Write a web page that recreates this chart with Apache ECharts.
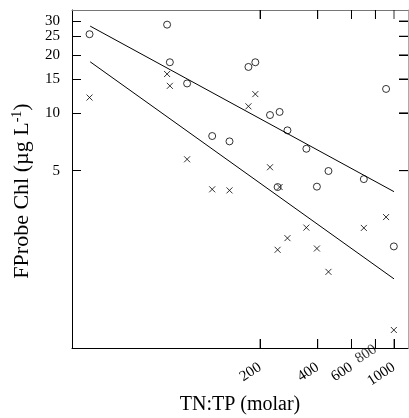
<!DOCTYPE html>
<html>
<head>
<meta charset="utf-8">
<script src="https://cdn.jsdelivr.net/npm/echarts@6/dist/echarts.min.js"></script>
<style>
html,body{margin:0;padding:0;background:#fff;}
#chart{width:409px;height:418px;}
</style>
</head>
<body>
<div id="chart"></div>
<script>
// TN:TP (molar) for each sample
var tnTp = [25.8, 65.5, 67.7, 83.3, 112.6, 138.6, 174, 189, 225.5, 253, 247, 278, 349, 396, 455, 696, 909, 998];
// circles series (upper group)
var chlCircles = [25.6, 28.7, 18.3, 14.2, 7.57, 7.10, 17.3, 18.3, 9.73, 10.1, 4.11, 8.10, 6.50, 4.13, 4.98, 4.52, 13.3, 2.02];
// crosses series (lower group)
var chlCrosses = [12.0, 15.9, 13.8, 5.73, 4.00, 3.95, 10.8, 12.5, 5.21, 4.11, 1.94, 2.23, 2.53, 1.97, 1.49, 2.52, 2.87, 0.743];
// fitted lines
var fitX = [26, 1000];
var fitCircles = [28.2, 3.89];
var fitCrosses = [18.4, 1.37];
// tick values
var xTicks = [200, 400, 600, 800, 1000];
var yTicks = [5, 10, 15, 20, 25, 30];
// x tick labels: the 800 label overlaps 1000, so it is drawn as a separate label
var xLabelsAxis = [200, 400, 600, 1000];
var xLabelsExtra = [800];

function pairs(xs, ys) { return xs.map(function (x, i) { return [x, ys[i]]; }); }

var FONT = '"Liberation Serif", "DejaVu Serif", serif';
var X_MIN = 20.9, X_MAX = 1183, Y_MIN = 0.599, Y_MAX = 34.2;
var chart = echarts.init(document.getElementById('chart'), null, {renderer: 'canvas'});

function xAxisDef(pos, main, lineColor) {
  return {
    type: 'log', position: pos, min: X_MIN, max: X_MAX,
    name: main ? 'TN:TP (molar)' : '', nameLocation: 'middle', nameGap: 47,
    nameTextStyle: {fontFamily: FONT, fontSize: 20, color: '#000'},
    axisLine: {show: true, onZero: false, lineStyle: {color: lineColor, width: 1}},
    axisTick: {show: true, inside: true, length: 9, customValues: xTicks, lineStyle: {color: '#000', width: 1}},
    axisLabel: {show: true, customValues: main ? xLabelsAxis : xTicks, inside: !main,
      rotate: 33, margin: 18, fontFamily: FONT, fontSize: 15,
      color: main ? '#000' : 'rgba(0,0,0,0)', hideOverlap: false,
      formatter: function (v) { return String(Math.round(v)); }},
    splitLine: {show: false}, minorTick: {show: false}
  };
}
function yAxisDef(pos, main, lineColor) {
  return {
    type: 'log', position: pos, min: Y_MIN, max: Y_MAX,
    name: main ? '{a|FProbe Chl (µg L}{s|-1}{a|)}' : '', nameLocation: 'middle', nameGap: 37,
    nameTextStyle: {fontFamily: FONT, fontSize: 22, color: '#000', padding: [0, 24, 0, 0],
      rich: {a: {fontFamily: FONT, fontSize: 22, color: '#000', lineHeight: 25},
             s: {fontFamily: FONT, fontSize: 14, color: '#000', verticalAlign: 'top', lineHeight: 14}}},
    axisLine: {show: true, onZero: false, lineStyle: {color: lineColor, width: 1}},
    axisTick: {show: true, inside: true, length: 9, customValues: yTicks, lineStyle: {color: '#000', width: 1}},
    axisLabel: {show: true, customValues: yTicks, inside: !main, margin: 12, fontFamily: FONT, fontSize: 15,
      color: main ? '#000' : 'rgba(0,0,0,0)', hideOverlap: false,
      formatter: function (v) { return String(Math.round(v)); }},
    splitLine: {show: false}, minorTick: {show: false}
  };
}

// inward tick marks on the frame, placed through the axes' scales
var topTickData = xTicks.map(function (v) { return [v, Y_MAX]; });
var bottomTickData = xTicks.map(function (v) { return [v, Y_MIN]; });
var rightTickData = yTicks.map(function (v) { return [X_MAX, v]; });
var extraLabelData = xLabelsExtra.map(function (v) { return [v, Y_MIN]; });

chart.setOption({
  animation: false,
  backgroundColor: '#fff',
  grid: {left: 72, right: 1, top: 10, bottom: 70, containLabel: false, outerBoundsMode: 'none'},
  xAxis: [xAxisDef('bottom', true, '#000'), xAxisDef('top', false, '#777')],
  yAxis: [yAxisDef('left', true, '#000'), yAxisDef('right', false, '#aaa')],
  series: [
    {type: 'scatter', xAxisIndex: 0, yAxisIndex: 0, data: pairs(tnTp, chlCircles),
     symbol: 'circle', symbolSize: 7,
     itemStyle: {color: 'rgba(0,0,0,0)', borderColor: '#000', borderWidth: 1}},
    {type: 'scatter', xAxisIndex: 0, yAxisIndex: 0, data: pairs(tnTp, chlCrosses),
     symbol: 'path://M0,0L10,10M10,0L0,10', symbolSize: 6,
     itemStyle: {color: 'rgba(0,0,0,0)', borderColor: '#000', borderWidth: 1}},
    {type: 'line', xAxisIndex: 0, yAxisIndex: 0, data: pairs(fitX, fitCircles), showSymbol: false,
     lineStyle: {color: '#000', width: 1}},
    {type: 'line', xAxisIndex: 0, yAxisIndex: 0, data: pairs(fitX, fitCrosses), showSymbol: false,
     lineStyle: {color: '#000', width: 1}},
    {type: 'scatter', xAxisIndex: 0, yAxisIndex: 0, data: topTickData, clip: false, silent: true, z: 5,
     symbol: 'rect', symbolSize: [1, 9], symbolOffset: [0, 4.5], itemStyle: {color: '#000'}},
    {type: 'scatter', xAxisIndex: 0, yAxisIndex: 0, data: bottomTickData, clip: false, silent: true, z: 5,
     symbol: 'rect', symbolSize: [1, 9], symbolOffset: [0, -4.5], itemStyle: {color: '#000'}},
    {type: 'scatter', xAxisIndex: 0, yAxisIndex: 0, data: rightTickData, clip: false, silent: true, z: 5,
     symbol: 'rect', symbolSize: [9, 1], symbolOffset: [-4.5, 0], itemStyle: {color: '#000'}},
    {type: 'scatter', xAxisIndex: 0, yAxisIndex: 0, data: extraLabelData, clip: false, silent: true, z: 5,
     symbol: 'circle', symbolSize: 1, itemStyle: {color: 'rgba(0,0,0,0)'},
     label: {show: true, position: 'inside', formatter: function (p) { return String(p.value[0]); },
       rotate: 33, align: 'right', verticalAlign: 'middle', offset: [0, 18],
       fontFamily: FONT, fontSize: 15, color: '#000'},
     labelLayout: {hideOverlap: false}}
  ]
});
</script>
</body>
</html>
